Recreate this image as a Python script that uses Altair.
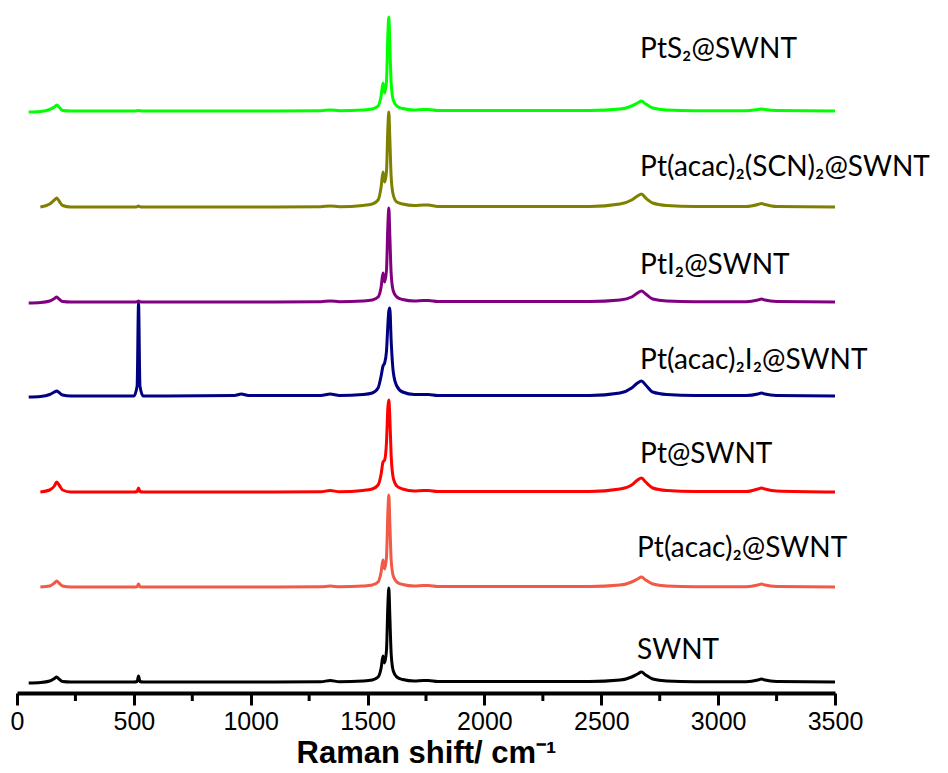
import altair as alt
import pandas as pd

# Raman shift sampling points (cm^-1)
shift = [50, 100, 140, 160, 170, 180, 195, 230,
         500, 514, 520, 526, 540,
         930, 960, 990,
         1300, 1340, 1380,
         1480, 1520, 1545, 1558, 1566, 1573, 1581, 1587, 1591, 1595, 1601, 1610, 1625, 1650,
         1700, 1740, 1760, 1800,
         2450, 2580, 2630, 2655, 2672, 2690, 2720, 2780, 2900,
         3120, 3170, 3185, 3200, 3250, 3500]

N = None
swnt = [-1, -0.5, 1, 3.5, 5, 3, 0.5, 0,
        0, 0.5, 6, 0.5, 0,
        0, 0, 0,
        0.3, 1.5, 0.3,
        1, 2, 5, 14, 26, 19, 32, 78, 94, 68, 28, 11, 5, 2.5,
        1, 1.5, 1.5, 0.5,
        0.5, 2, 5, 8, 10, 7, 3, 1, 0.3,
        0.3, 2, 3, 2, 0.5, 0]
pt_acac = [N, 0, 1, 4, 6, 4, 1, 0,
           0, 0.3, 3, 0.3, 0,
           0, 0, 0,
           0.2, 1, 0.2,
           1, 2, 5, 15, 27, 18, 30, 76, 92, 66, 27, 11, 5, 2.5,
           1, 1.5, 1.5, 0.5,
           0.5, 2, 5, 8, 10, 7, 3, 1, 0.3,
           0.3, 2, 3, 2, 0.5, 0]
pt = [N, 0, 2, 6, 10, 7, 2, 0,
      0, 0.5, 4, 0.5, 0,
      0, 0, 0,
      0.3, 1.5, 0.3,
      1.5, 3, 7, 18, 30, 32, 50, 85, 92, 76, 36, 14, 6, 3,
      1, 1.5, 1.5, 0.5,
      0.5, 3, 7, 12, 14, 10, 4, 1.5, 0.5,
      0.5, 3, 4, 3, 1, 0]
pt_acac_i2 = [-1, -0.5, 1.5, 4, 5, 3.5, 1, 0,
              0, 10, 93, 10, 0,
              0.5, 2, 0.5,
              0.5, 2, 0.5,
              1.5, 3, 8, 20, 30, 33, 45, 72, 85, 88, 55, 24, 10, 4,
              1.5, 1.5, 1.5, 0.5,
              0.5, 3, 8, 13, 15, 11, 4, 1.5, 0.5,
              0.5, 2, 3, 2, 0.5, 0]
pti2 = [-1, -0.5, 1, 3.5, 5, 3, 0.5, 0,
        0, 0.3, 1, 0.3, 0,
        0, 0, 0,
        0.3, 1, 0.3,
        1, 2, 5, 15, 29, 20, 32, 78, 94, 68, 28, 11, 5, 2.5,
        1, 1.5, 1.5, 0.5,
        0.5, 2, 5, 9, 11, 8, 3, 1, 0.3,
        0.3, 2, 3, 2, 0.5, 0]
pt_acac_scn = [N, 0, 3, 7, 9, 6, 1.5, 0,
               0, 0.3, 1, 0.3, 0,
               0, 0, 0,
               0.3, 1, 0.3,
               1.5, 3, 7, 20, 35, 25, 36, 80, 95, 70, 30, 12, 5, 3,
               1.5, 2, 2, 0.5,
               0.5, 3, 7, 11, 13, 9, 4, 1.5, 0.5,
               0.5, 2.5, 3.5, 2.5, 0.5, 0]
pts2 = [-1, -0.5, 1.5, 4, 6, 4, 0.5, 0,
        0, 0.3, 0.5, 0.3, 0,
        0, 0, 0,
        0.3, 1, 0.3,
        1, 2, 5, 15, 28, 18, 30, 78, 94, 68, 28, 11, 5, 2.5,
        1, 1.5, 1.5, 0.5,
        0.5, 2, 5, 8, 10, 7, 3, 1, 0.3,
        0.3, 1.5, 2, 1.5, 0.5, 0]

names = ["SWNT", "Pt(acac)₂@SWNT", "Pt@SWNT", "Pt(acac)₂I₂@SWNT",
         "PtI₂@SWNT", "Pt(acac)₂(SCN)₂@SWNT", "PtS₂@SWNT"]
series = [swnt, pt_acac, pt, pt_acac_i2, pti2, pt_acac_scn, pts2]
offsets = [11, 106, 201, 297, 391, 486, 582]
colors = ["#000000", "#F05A46", "#FF0000", "#000080", "#800080", "#808000", "#00FF00"]
label_y = [34, 136, 230, 324, 419, 517, 635]
label_x = [2653, 2653, 2666, 2666, 2666, 2666, 2666]

major_ticks = [0, 500, 1000, 1500, 2000, 2500, 3000, 3500]
minor_ticks = [250, 750, 1250, 1750, 2250, 2750, 3250]

rows = []
for name, off, vals in zip(names, offsets, series):
    for x, v in zip(shift, vals):
        if v is None:
            continue
        rows.append({"series": name, "shift": x, "intensity": off + v})
df = pd.DataFrame(rows)
labels = pd.DataFrame({"series": names, "x": label_x, "y": label_y})
minor = pd.DataFrame({"shift": minor_ticks})

xscale = alt.Scale(domain=[0, 3500], nice=False)
yscale = alt.Scale(domain=[0, 693], nice=False, zero=False)
cscale = alt.Scale(domain=names, range=colors)

lines = alt.Chart(df).mark_line(strokeWidth=3, interpolate="monotone").encode(
    x=alt.X("shift:Q", scale=xscale,
            axis=alt.Axis(values=major_ticks, format="d", tickSize=12, tickWidth=3,
                          tickColor="black", domainWidth=4, domainColor="black", grid=False,
                          labelFont="Liberation Sans", labelFontSize=25, labelColor="black",
                          labelPadding=4, labelFlush=False,
                          title="Raman shift/ cm⁻¹", titleFont="Liberation Sans",
                          titleFontSize=31, titleFontWeight="bold", titleColor="black",
                          titlePadding=4)),
    y=alt.Y("intensity:Q", scale=yscale, axis=None),
    color=alt.Color("series:N", scale=cscale, legend=None),
    detail="series:N",
)

texts = alt.Chart(labels).mark_text(align="left", baseline="alphabetic", font="Lato",
                                    fontSize=28, color="black").encode(
    x=alt.X("x:Q", scale=xscale),
    y=alt.Y("y:Q", scale=yscale),
    text="series:N",
)

minor_rules = alt.Chart(minor).mark_rule(strokeWidth=3, color="black").encode(
    x=alt.X("shift:Q", scale=xscale),
    y=alt.value(693),
    y2=alt.value(701),
)

chart = alt.layer(lines, minor_rules, texts).properties(
    width=818, height=693,
    autosize=alt.AutoSizeParams(type="none"),
    padding={"left": 17, "top": 0, "right": 113, "bottom": 80},
    background="white",
).configure_view(stroke=None)

chart.save("out.html", embed_options={"renderer": "svg", "actions": False})
